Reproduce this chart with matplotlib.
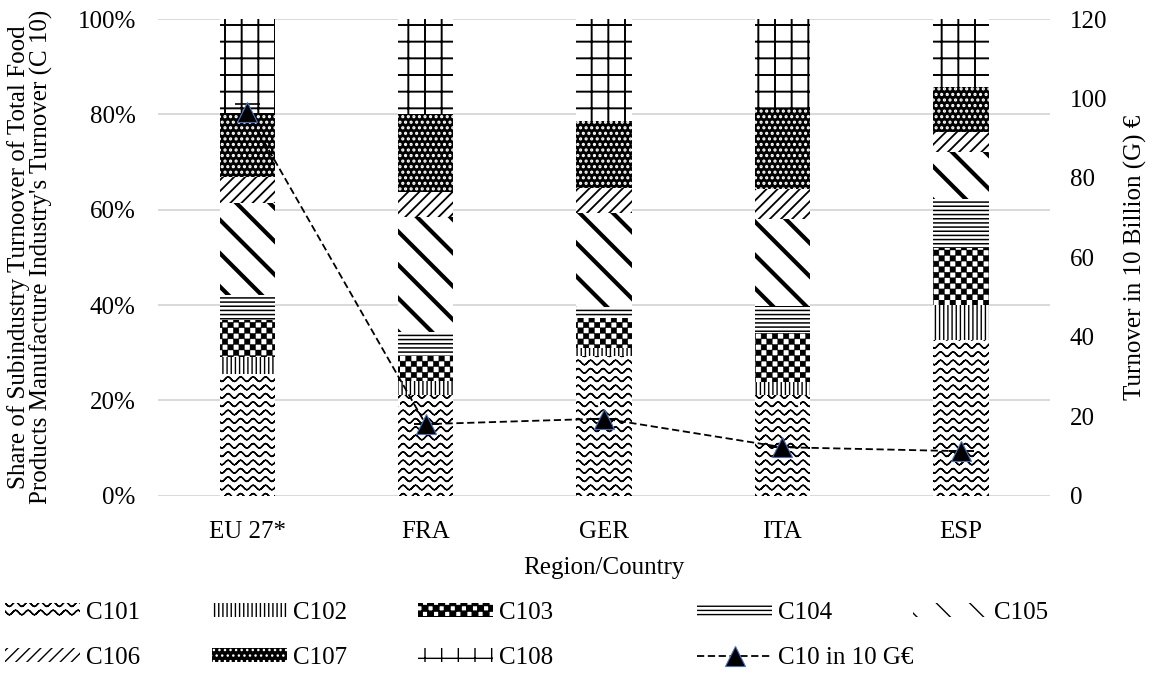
import warnings
import numpy as np
import matplotlib
matplotlib.use("Agg")
import matplotlib.pyplot as plt
import matplotlib.hatch as mhatch
from matplotlib.path import Path

warnings.filterwarnings("ignore")

# share of each subindustry in total C10 turnover (%)
regions = ["EU 27*", "FRA", "GER", "ITA", "ESP"]
c101 = [25.5, 21.1, 29.3, 21.1, 32.7]
c102 = [3.5, 3.0, 1.6, 2.8, 7.3]
c103 = [7.9, 5.1, 6.3, 10.2, 11.9]
c104 = [5.2, 5.1, 2.3, 5.7, 10.3]
c105 = [19.2, 24.2, 19.7, 18.2, 10.0]
c106 = [5.5, 5.3, 5.3, 6.3, 4.2]
c107 = [13.5, 16.2, 14.1, 17.0, 9.3]
c108 = [19.7, 20.0, 21.4, 18.7, 14.3]
# total C10 turnover in 10 G EUR
c10 = [96.5, 18.0, 19.4, 12.2, 11.2]
c10_err = [2.0, 0, 0, 0, 0]


# extra hatch patterns: 'w' = wavy rows, 'k' = checkerboard
class WaveHatch(mhatch.HatchPatternBase):
    def __init__(self, hatch, density):
        self.num_rows = int(hatch.count('w') * density)
        self.num_waves = (self.num_rows * 2) // 3
        self.num_steps = self.num_waves * 8
        self.num_vertices = self.num_rows * 2 * (self.num_steps + 1)

    def set_vertices_and_codes(self, vertices, codes):
        x = np.linspace(0, 1, self.num_steps + 1)
        y = 0.28 / self.num_rows * np.sin(2 * np.pi * self.num_waves * x)
        # go out and back along the same curve so the fill adds nothing
        xs = np.concatenate([x, x[::-1]])
        ys = np.concatenate([y, y[::-1]])
        n = len(xs)
        for i in range(self.num_rows):
            sl = slice(i * n, (i + 1) * n)
            vertices[sl, 0] = xs
            vertices[sl, 1] = ys + (i + 0.5) / self.num_rows
            codes[sl] = Path.LINETO
            codes[i * n] = Path.MOVETO


class CheckerHatch(mhatch.HatchPatternBase):
    def __init__(self, hatch, density):
        self.cells = int(hatch.count('k') * density * 3)
        if self.cells % 2:
            self.cells += 1
        self.num_squares = self.cells * self.cells // 2 if self.cells else 0
        self.num_vertices = self.num_squares * 5

    def set_vertices_and_codes(self, vertices, codes):
        s = 1.0 / self.cells
        k = 0
        for i in range(self.cells):
            for j in range(self.cells):
                if (i + j) % 2:
                    continue
                x0, y0 = i * s, j * s
                vertices[k:k + 5] = [(x0, y0), (x0 + s, y0), (x0 + s, y0 + s),
                                     (x0, y0 + s), (x0, y0)]
                codes[k:k + 5] = [Path.MOVETO, Path.LINETO, Path.LINETO,
                                  Path.LINETO, Path.CLOSEPOLY]
                k += 5


mhatch._hatch_types.append(WaveHatch)
mhatch._hatch_types.append(CheckerHatch)

plt.rcParams['font.family'] = ['Liberation Serif', 'DejaVu Serif']
plt.rcParams['font.size'] = 18

series = [
    ("C101", c101, 'ww', 'white', 'black', 1.0),
    ("C102", c102, '||||', 'white', 'black', 1.0),
    ("C103", c103, 'k', 'white', 'black', 0.3),
    ("C104", c104, '----', 'white', 'black', 1.1),
    ("C105", c105, '\\', 'white', 'black', 3.0),
    ("C106", c106, '///', 'white', 'black', 1.3),
    ("C107", c107, '...', 'black', 'white', 1.5),
    ("C108", c108, '+', 'white', 'black', 1.4),
]

fig = plt.figure(figsize=(11.5, 6.79), dpi=100)
ax = fig.add_axes([0.1374, 0.270, 0.7757, 0.702])

x = np.arange(len(regions))
bottom = np.zeros(len(regions))
handles = {}
for name, vals, hatch, fc, hc, hlw in series:
    with plt.rc_context({'hatch.linewidth': hlw}):
        bars = ax.bar(x, vals, 0.31, bottom=bottom, color=fc, edgecolor=hc,
                      linewidth=0, hatch=hatch, zorder=2, label=name)
    for b in bars:
        if hasattr(b, 'set_hatch_linewidth'):
            b.set_hatch_linewidth(hlw)
    handles[name] = bars[0]
    bottom += np.array(vals)

ax.set_ylim(0, 100)
ax.set_xlim(-0.5, len(regions) - 0.5)
ax.set_yticks(np.arange(0, 101, 20))
ax.set_yticklabels([f"{v}%" for v in range(0, 101, 20)])
ax.set_xticks(x)
ax.set_xticklabels(regions)
ax.yaxis.grid(True, color='#d9d9d9', linewidth=1.4, zorder=0)
ax.set_axisbelow(True)
for s in ax.spines.values():
    s.set_visible(False)
ax.tick_params(axis='y', length=0, pad=16)
ax.tick_params(axis='x', length=0, pad=18)
ax.set_xlabel("Region/Country", labelpad=10)

ax2 = ax.twinx()
ax2.set_ylim(0, 120)
ax2.set_yticks(np.arange(0, 121, 20))
for s in ax2.spines.values():
    s.set_visible(False)
ax2.tick_params(axis='y', length=0, pad=14)
ax2.errorbar(x, c10, yerr=c10_err, fmt='none', ecolor='black',
             elinewidth=1.2, capsize=9, capthick=1.2)
line, = ax2.plot(x, c10, linestyle=(0, (4, 2)), color='black', linewidth=1.3,
                 marker='^', markersize=14, markerfacecolor='black',
                 markeredgecolor='#4472C4', markeredgewidth=0.8,
                 label="C10 in 10 G€")

fig.text(30 / 1150, 1 - 257 / 679,
         "Share of Subindustry Turnoover of Total Food\n"
         "Products Manufacture Industry's Turnover (C 10)",
         rotation=90, ha='center', va='center', multialignment='center',
         linespacing=1.0)
fig.text(1135 / 1150, 1 - 257 / 679, "Turnover in 10 Billion (G) €",
         rotation=90, ha='center', va='center')

# legend laid out as five columns of two rows
columns = [
    (5, ["C101", "C106"]),
    (212, ["C102", "C107"]),
    (418, ["C103", "C108"]),
    (697, ["C104", "C10"]),
    (913, ["C105"]),
]
for xpix, names in columns:
    hs, ls = [], []
    for n in names:
        if n == "C10":
            hs.append(line)
            ls.append("C10 in 10 G€")
        else:
            hs.append(handles[n])
            ls.append(n)
    fig.legend(hs, ls, loc='upper left',
               bbox_to_anchor=(xpix / 1150, 1 - 602 / 679),
               frameon=False, borderpad=0, borderaxespad=0,
               handlelength=3.0, handleheight=0.5, handletextpad=0.25,
               labelspacing=0.9, fontsize=18)

fig.savefig("out.png", dpi=100)
